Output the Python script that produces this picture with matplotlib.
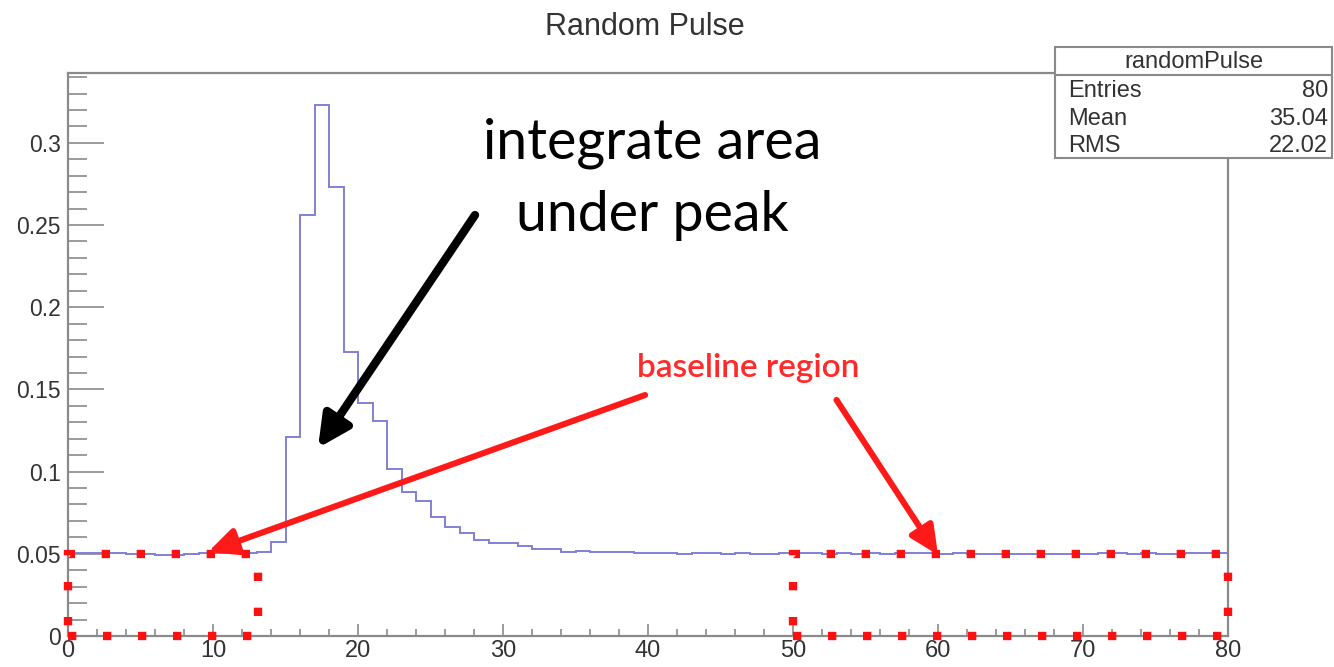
import matplotlib
matplotlib.use("Agg")
import matplotlib.pyplot as plt
from matplotlib.patches import Rectangle
from matplotlib.ticker import MultipleLocator
from matplotlib.lines import Line2D
import numpy as np

# ---------------- data ----------------
bin_edges_start = 0
bin_width = 1
pulse_values = [
    0.0503, 0.0503, 0.0502, 0.0502, 0.0500, 0.0501, 0.0495, 0.0494, 0.0496, 0.0502,
    0.0502, 0.0503, 0.0502, 0.0510, 0.0570, 0.1210, 0.2560, 0.3230, 0.2730, 0.1726,
    0.1420, 0.1310, 0.1015, 0.0876, 0.0820, 0.0722, 0.0664, 0.0625, 0.0587, 0.0563,
    0.0563, 0.0549, 0.0530, 0.0528, 0.0512, 0.0520, 0.0512, 0.0512, 0.0510, 0.0506,
    0.0503, 0.0504, 0.0500, 0.0503, 0.0502, 0.0500, 0.0504, 0.0499, 0.0500, 0.0503,
    0.0502, 0.0503, 0.0500, 0.0503, 0.0501, 0.0502, 0.0500, 0.0503, 0.0502, 0.0502,
    0.0501, 0.0503, 0.0499, 0.0499, 0.0501, 0.0501, 0.0500, 0.0498, 0.0500, 0.0498,
    0.0501, 0.0503, 0.0502, 0.0501, 0.0502, 0.0500, 0.0501, 0.0502, 0.0503, 0.0504,
]
x_range = (0, 80)
y_range = (0, 0.3425)
x_ticks = [0, 10, 20, 30, 40, 50, 60, 70, 80]
y_ticks = [0, 0.05, 0.1, 0.15, 0.2, 0.25, 0.3]
y_tick_labels = ["0", "0.05", "0.1", "0.15", "0.2", "0.25", "0.3"]

stats_title = "randomPulse"
stats_names = ["Entries", "Mean", "RMS"]
stats_values = ["80", "35.04", "22.02"]

baseline_regions = [(0, 13.1, 0.0, 0.05), (50, 80, 0.0, 0.05)]
baseline_arrows = [((39.8, 0.1466), (9.66, 0.0511)), ((53.0, 0.1436), (60.0, 0.0493))]
peak_arrow = ((28.07, 0.2561), (17.24, 0.1144))

# ---------------- figure ----------------
W, H = 1334, 667
fig = plt.figure(figsize=(W / 100, H / 100), dpi=100)
ax = fig.add_axes([68 / W, 1 - 636 / H, (1228 - 68) / W, (636 - 73) / H])

edges = np.arange(len(pulse_values) + 1) * bin_width + bin_edges_start
ax.stairs(pulse_values, edges, color="#8080d8", linewidth=1.4, baseline=None)

ax.set_xlim(*x_range)
ax.set_ylim(*y_range)

ax.set_xticks(x_ticks)
ax.set_yticks(y_ticks)
ax.set_yticklabels(y_tick_labels)
ax.xaxis.set_minor_locator(MultipleLocator(2))
ax.yaxis.set_minor_locator(MultipleLocator(0.01))

tick_col = "#8a8a8a"
ax.tick_params(axis="y", which="major", direction="in", length=26, width=1.2,
               color=tick_col, labelsize=16.5, labelcolor="#333333", pad=5)
ax.tick_params(axis="y", which="minor", direction="in", length=13.5, width=1.2,
               color=tick_col)
ax.tick_params(axis="x", which="major", direction="in", length=9, width=1.2,
               color=tick_col, labelsize=17, labelcolor="#333333", pad=3)
ax.tick_params(axis="x", which="minor", direction="in", length=5, width=1.2,
               color=tick_col)
for t in ax.get_xticklabels() + ax.get_yticklabels():
    t.set_fontfamily("Liberation Sans")
for s in ax.spines.values():
    s.set_color(tick_col)
    s.set_linewidth(1.6)

# baseline regions as dotted red boxes
for (x0, x1, y0, y1) in baseline_regions:
    ax.add_patch(Rectangle((x0, y0), x1 - x0, y1 - y0, fill=False,
                           edgecolor="#ff1010", linewidth=6,
                           linestyle=(0, (1, 3.2)), clip_on=False, zorder=5))

# arrows
for (tail, head) in baseline_arrows:
    ax.annotate("", xy=head, xytext=tail,
                arrowprops=dict(arrowstyle="-|>,head_length=1.7,head_width=0.8",
                                color="#ff1a1a", lw=4.4, shrinkA=0, shrinkB=0),
                zorder=6, annotation_clip=False)
ax.annotate("", xy=peak_arrow[1], xytext=peak_arrow[0],
            arrowprops=dict(arrowstyle="-|>,head_length=1.9,head_width=0.95",
                            color="black", lw=6, shrinkA=0, shrinkB=0),
            zorder=6, annotation_clip=False)

# texts
fig.text(645 / W, 1 - 27 / H, "Random Pulse", ha="center", va="center",
         fontsize=22, family="Liberation Sans", color="#333333")
fig.text(748 / W, 1 - 368 / H, "baseline region", ha="center", va="center",
         fontsize=24, family="Lato", fontweight=600, color="#ff2a2a")
fig.text(652 / W, 1 - 143 / H, "integrate area", ha="center", va="center",
         fontsize=40, family="Lato", color="black")
fig.text(652 / W, 1 - 215 / H, "under peak", ha="center", va="center",
         fontsize=40, family="Lato", color="black")

# stats box
bx0, bx1 = 1055 / W, 1332 / W
by_top, by_sep, by_bot = 1 - 47 / H, 1 - 75 / H, 1 - 158 / H
fig.patches.append(Rectangle((bx0, by_bot), bx1 - bx0, by_top - by_bot,
                             transform=fig.transFigure, facecolor="white",
                             edgecolor="#8a8a8a", linewidth=1.5, zorder=10))
fig.lines.append(Line2D([bx0, bx1], [by_sep, by_sep], transform=fig.transFigure,
                        color="#8a8a8a", linewidth=1.5, zorder=11))
fig.text((bx0 + bx1) / 2, 1 - 62 / H, stats_title, ha="center", va="center",
         fontsize=17, family="Liberation Sans", color="#333333", zorder=12)
row_y = [91, 119, 146]
for name, val, yy in zip(stats_names, stats_values, row_y):
    fig.text(1068 / W, 1 - yy / H, name, ha="left", va="center", fontsize=17,
             family="Liberation Sans", color="#333333", zorder=12)
    fig.text(1328 / W, 1 - yy / H, val, ha="right", va="center", fontsize=17,
             family="Liberation Sans", color="#333333", zorder=12)

fig.savefig("out.png", dpi=100, facecolor="white")
